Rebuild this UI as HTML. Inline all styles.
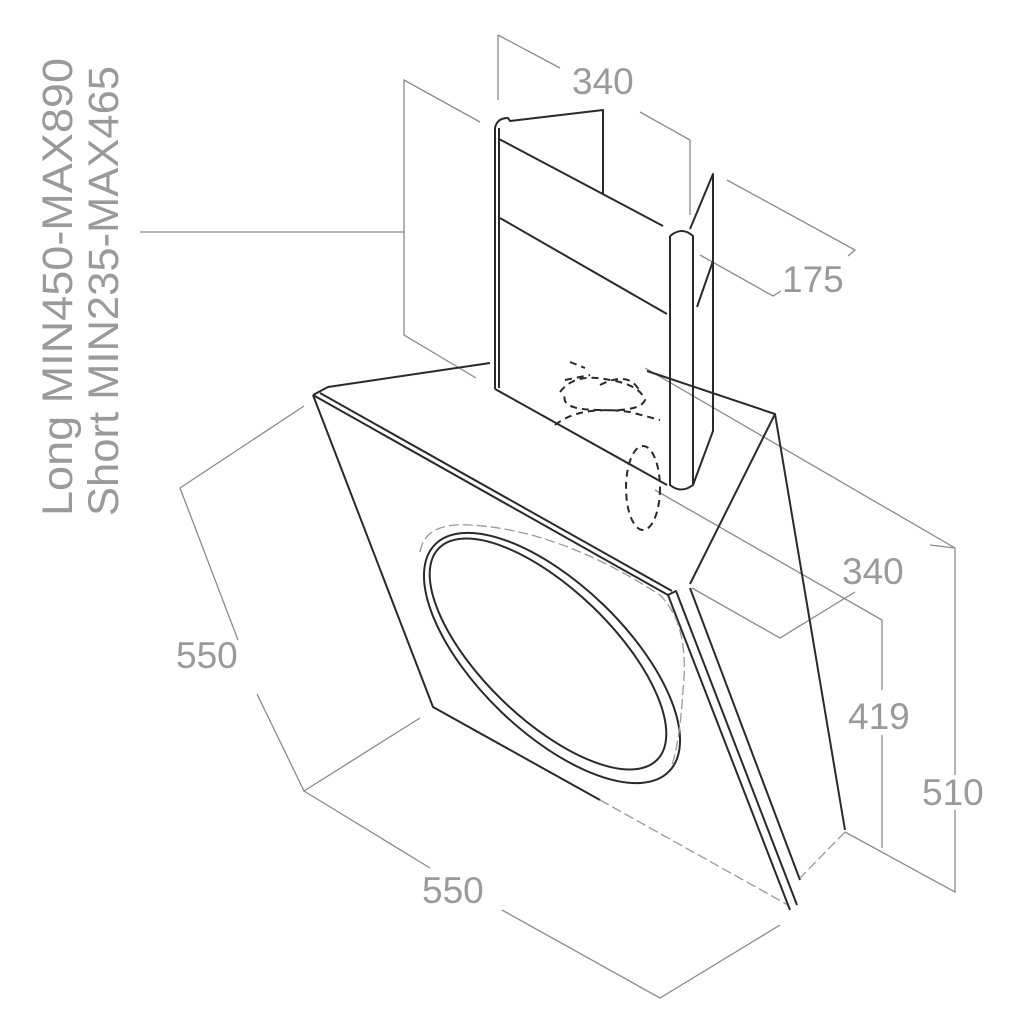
<!DOCTYPE html>
<html><head><meta charset="utf-8"><style>
html,body{margin:0;padding:0;background:#fff}
svg{display:block}
.d{stroke:#8a8a8a;stroke-width:1.3;fill:none}
.k{stroke:#2a2a2a;stroke-width:2;fill:none;stroke-linejoin:round}
.ds{stroke:#2a2a2a;stroke-width:2;fill:none;stroke-dasharray:7 5}
.dl{stroke:#999;stroke-width:1.3;fill:none;stroke-dasharray:10 4}
text{font-family:"Liberation Sans",sans-serif;fill:#9a9a9a}
</style></head><body>
<svg width="1025" height="1025" viewBox="0 0 1025 1025" xmlns="http://www.w3.org/2000/svg">
<text transform="translate(72,516) rotate(-90)" font-size="43" textLength="458" lengthAdjust="spacingAndGlyphs">Long MIN450-MAX890</text>
<text transform="translate(118,516) rotate(-90)" font-size="43" textLength="450" lengthAdjust="spacingAndGlyphs">Short MIN235-MAX465</text>

<path class="d" d="M140 232 H404 M480 122 L404 80 V335 L476 378"/>
<path class="d" d="M498 35 V100 M498 35 L560 68 M640 112 L690 140 V215"/>
<text x="572" y="94" font-size="37">340</text>
<path class="d" d="M727 180 L855 250 L848 256 M700 255 L773 296 L781 291"/>
<text x="782" y="292" font-size="37">175</text>
<path class="d" d="M645 368 L955 548 V775 M955 810 V892 L845 832 M930 545 L955 548"/>
<path class="d" d="M655 490 L882 620 V690 M882 735 V848"/>
<path class="d" d="M692 588 L780 638 L855 592"/>
<text x="842" y="584" font-size="37">340</text>
<text x="848" y="729" font-size="37">419</text>
<text x="922" y="805" font-size="37">510</text>
<path class="d" d="M304 406 L180 488 L238 640 M257 694 L304 791 L420 718"/>
<text x="176" y="668" font-size="37">550</text>
<path class="d" d="M304 791 L430 868 M502 910 L660 998 L780 925"/>
<text x="422" y="903" font-size="37">550</text>

<path class="k" d="M495 389 V128 Q497 118 508 118 L510 121 L603 110 V194"/>
<path class="k" d="M499 128 V388"/>
<path class="k" d="M499 139 L663 226"/>
<path class="k" d="M500 218 L667 314"/>
<path class="k" d="M495 389 L667 485"/>
<path class="k" d="M670 236 V485 Q681 494 693 485 V236 Q682 226 670 236"/>
<path class="k" d="M690 229 L713 174 V431 L693 485"/>
<path class="k" d="M697 307 L713 261"/>
<path class="ds" d="M570 362 L585 368 M565 380 L590 375 M560 392 Q575 372 610 380 Q640 385 645 400 Q640 412 600 410 Q560 410 565 395 M600 385 Q630 370 640 392 M555 425 Q580 405 630 412 L660 420"/>
<ellipse class="ds" cx="643" cy="488" rx="17" ry="42"/>

<path class="k" d="M313 395 L328 387 L490 363"/>
<path class="k" d="M647 371 L775 414 L845 830"/>
<path class="k" d="M775 414 L690 584"/>
<path class="k" d="M313 395 L668 595 M320 393 L672 591"/>
<path class="k" d="M313 395 L433 707 L600 800"/>
<path class="dl" d="M600 800 L788 905"/>
<path class="k" d="M668 595 L676 591 L797 905 M668 595 L790 910 M690 588 L800 880"/>
<path class="dl" d="M845 832 L800 878"/>
<ellipse class="k" cx="552" cy="658" rx="163" ry="74" transform="rotate(44 552 658)"/>
<ellipse class="k" cx="548" cy="654" rx="152" ry="65" transform="rotate(44 548 654)"/>
<path class="dl" d="M420 552 Q425 522 470 525 Q560 530 660 595 Q690 625 683 690 Q680 740 672 765"/>
</svg>
</body></html>
